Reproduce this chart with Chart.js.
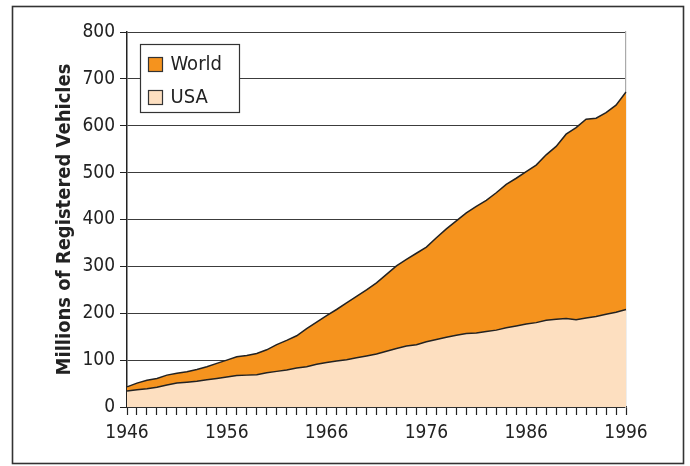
<!DOCTYPE html>
<html>
<head>
<meta charset="utf-8">
<script src="https://cdn.jsdelivr.net/npm/chart.js@4/dist/chart.umd.min.js"></script>
<style>
  html, body { margin: 0; padding: 0; background: #fff; }
  canvas { display: block; }
</style>
</head>
<body>
<canvas id="chart" width="690" height="466"></canvas>
<script>
// Registered vehicles, millions, 1946-1996
const years = [
  1946, 1947, 1948, 1949, 1950, 1951, 1952, 1953, 1954, 1955,
  1956, 1957, 1958, 1959, 1960, 1961, 1962, 1963, 1964, 1965,
  1966, 1967, 1968, 1969, 1970, 1971, 1972, 1973, 1974, 1975,
  1976, 1977, 1978, 1979, 1980, 1981, 1982, 1983, 1984, 1985,
  1986, 1987, 1988, 1989, 1990, 1991, 1992, 1993, 1994, 1995, 1996
];
const worldVehicles = [
  43, 51, 57, 61, 68, 72, 75, 80, 86, 93,
  100, 107, 110, 114, 122, 133, 142, 152, 167, 181,
  195, 208, 222, 236, 250, 265, 283, 301, 315, 328,
  341, 361, 380, 397, 414, 428, 441, 457, 475, 488,
  502, 516, 538, 556, 582, 596, 614, 616, 628, 644, 672
];
const usaVehicles = [
  34, 37, 39, 42, 47, 51, 53, 55, 58, 61,
  64, 67, 68, 69, 73, 76, 79, 83, 86, 91,
  95, 98, 101, 105, 109, 113, 119, 125, 130, 133,
  139, 144, 149, 153, 157, 158, 161, 164, 169, 173,
  177, 180, 185, 187, 189, 186, 190, 193, 198, 202, 208
];
const decadeLabels = [1946, 1956, 1966, 1976, 1986, 1996];
const seriesNames = ['World', 'USA'];
const yTitle = 'Millions of Registered Vehicles';

const FONT = "'DejaVu Sans Condensed', 'Liberation Sans', sans-serif";
const WORLD_FILL = '#F5931E';
const USA_FILL = '#FDDFC0';
const LINE = '#222';

// Thin frame around the whole figure
const framePlugin = {
  id: 'frame',
  beforeDraw(chart) {
    const ctx = chart.ctx;
    ctx.save();
    ctx.fillStyle = '#fff';
    ctx.fillRect(0, 0, chart.width, chart.height);
    ctx.strokeStyle = '#333';
    ctx.lineWidth = 1.6;
    ctx.strokeRect(12.5, 6.5, 671, 457);
    ctx.restore();
  }
};

// Boxed legend sitting in the upper-left of the plot
const boxLegendPlugin = {
  id: 'boxLegend',
  afterDatasetsDraw(chart) {
    const ctx = chart.ctx;
    const a = chart.chartArea;
    const x = a.left + 13.5, y = a.top + 12.5, w = 99, h = 68;
    ctx.save();
    ctx.fillStyle = '#fff';
    ctx.fillRect(x, y, w, h);
    ctx.strokeStyle = '#333';
    ctx.lineWidth = 1.2;
    ctx.strokeRect(x, y, w, h);
    const items = chart.data.datasets;
    ctx.font = '20px ' + FONT;
    ctx.textBaseline = 'middle';
    items.forEach((ds, i) => {
      const sy = y + 13 + i * 33;
      ctx.fillStyle = ds.backgroundColor;
      ctx.fillRect(x + 8, sy, 14, 14);
      ctx.strokeStyle = '#333';
      ctx.lineWidth = 1.2;
      ctx.strokeRect(x + 8, sy, 14, 14);
      ctx.fillStyle = '#222';
      ctx.fillText(ds.label, x + 30, sy + 7.5);
    });
    ctx.restore();
  }
};

new Chart(document.getElementById('chart'), {
  type: 'line',
  data: {
    labels: years,
    datasets: [
      {
        label: seriesNames[0],
        data: worldVehicles,
        backgroundColor: WORLD_FILL,
        borderColor: LINE,
        borderWidth: 1.5,
        pointRadius: 0,
        fill: 'origin',
        tension: 0,
        order: 1
      },
      {
        label: seriesNames[1],
        data: usaVehicles,
        backgroundColor: USA_FILL,
        borderColor: LINE,
        borderWidth: 1.5,
        pointRadius: 0,
        fill: 'origin',
        tension: 0,
        order: 0
      }
    ]
  },
  options: {
    responsive: false,
    animation: false,
    devicePixelRatio: 1,
    layout: { padding: { left: 12, top: 32, right: 64, bottom: 0 } },
    plugins: {
      legend: { display: false },
      tooltip: { enabled: false }
    },
    scales: {
      x: {
        type: 'category',
        offset: false,
        grid: {
          display: true,
          drawOnChartArea: false,
          drawTicks: true,
          tickLength: 8,
          tickColor: '#222',
          tickWidth: 1.2,
          offset: false
        },
        border: { display: true, color: '#222', width: 1.5 },
        ticks: {
          autoSkip: false,
          maxRotation: 0,
          minRotation: 0,
          padding: 7,
          color: '#222',
          font: { family: FONT, size: 19 },
          callback: function (value, index) {
            const yr = years[index];
            return decadeLabels.includes(yr) ? String(yr) : '';
          }
        },
        afterFit(scale) { scale.height = 59; }
      },
      y: {
        min: 0,
        max: 800,
        ticks: {
          stepSize: 100,
          padding: 5,
          color: '#222',
          font: { family: FONT, size: 19 }
        },
        grid: {
          color: '#3c3c3c',
          lineWidth: 1,
          tickLength: 7,
          tickColor: '#222'
        },
        border: { display: true, color: '#222', width: 1.5 },
        title: {
          display: true,
          text: yTitle,
          color: '#222',
          font: { family: FONT, size: 20, weight: 'bold' },
          padding: { top: 41, bottom: 0 }
        },
        afterFit(scale) { scale.width = 115; }
      },
      yRight: {
        position: 'right',
        min: 0,
        max: 800,
        grid: { display: false },
        ticks: { display: false },
        border: { display: true, color: '#aaa', width: 1.2 },
        afterFit(scale) { scale.width = 0; }
      }
    }
  },
  plugins: [framePlugin, boxLegendPlugin]
});
</script>
</body>
</html>
